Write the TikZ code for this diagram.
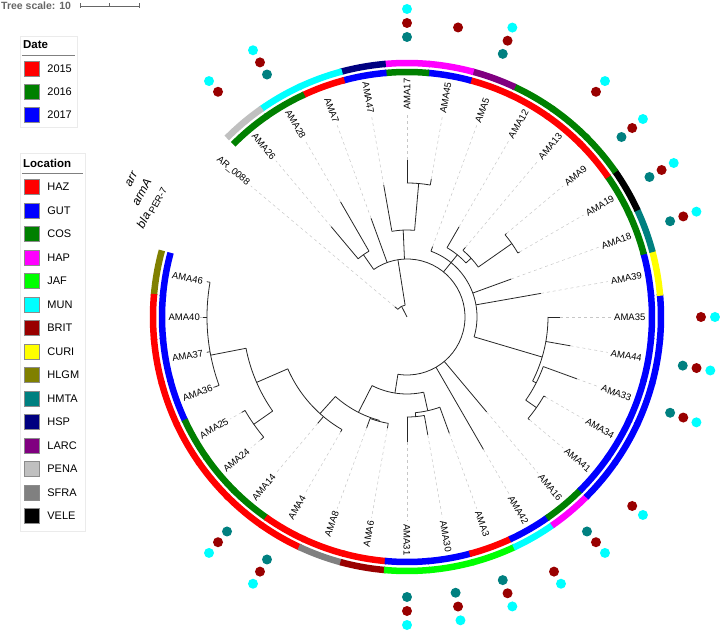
\documentclass[tikz,border=0pt]{standalone}
\usepackage{fontspec}
\setmainfont{Liberation Sans}
\usetikzlibrary{positioning}
\definecolor{cHAZ}{HTML}{FF0000}
\definecolor{cGUT}{HTML}{0000FF}
\definecolor{cCOS}{HTML}{008000}
\definecolor{cHAP}{HTML}{FF00FF}
\definecolor{cJAF}{HTML}{00FF00}
\definecolor{cMUN}{HTML}{00FFFF}
\definecolor{cBRIT}{HTML}{990000}
\definecolor{cCURI}{HTML}{FFFF00}
\definecolor{cHLGM}{HTML}{808000}
\definecolor{cHMTA}{HTML}{008080}
\definecolor{cHSP}{HTML}{000080}
\definecolor{cLARC}{HTML}{800080}
\definecolor{cPENA}{HTML}{C0C0C0}
\definecolor{cSFRA}{HTML}{808080}
\definecolor{cVELE}{HTML}{000000}
\definecolor{yA}{HTML}{FF0000}
\definecolor{yB}{HTML}{008000}
\definecolor{yC}{HTML}{0000FF}
\tikzset{
  branch/.style={line width=0.8pt, black!85},
  leader/.style={line width=0.5pt, black!22, dash pattern=on 3pt off 3pt},
  ringseg/.style={line width=6.5pt},
  leaf/.style={inner sep=0pt, font=\fontsize{9.5}{10}\selectfont},
  gene/.style={circle, inner sep=0pt, minimum size=10pt},
  genelbl/.style={inner sep=0pt, rotate=62, anchor=east, font=\itshape\fontsize{12}{12}\selectfont},
  swatch/.style={draw=black!45, line width=0.4pt, minimum size=15pt, inner sep=0pt},
  legtext/.style={font=\fontsize{11}{12}\selectfont, inner sep=0pt},
  leghead/.style={font=\bfseries\fontsize{11.5}{12}\selectfont, anchor=west, inner sep=0pt},
}
\begin{document}
\begin{tikzpicture}[x=1pt,y=1pt]
\useasboundingbox (-407,-314) rectangle (313,317);

\foreach \a/\ra/\rb in {117/0/12, 99/12/58, 125/58/76, 92.5/58/87, 85/87/134, 51/58/80, 42.5/80/87,
  35/87/128, 343.5/70/141, 333/141/145, 325/145/158, 261/58/77, 243/77/107,
  255/107/108, 228/107/130, 203.5/130/164, 191/164/200, 215/164/187, 282.5/77/96, 275/96/100}
  \draw[branch] (\a:\ra pt) -- (\a:\rb pt);
\foreach \r/\a/\b in {12/99/140, 58/-99/125, 76/120/130, 87/85/100, 134/80/90, 70/-16.5/70,
  80/42.5/60, 87/35/50, 128/30/40, 141/-27/0, 145/-35/-20, 158/-40/-30, 77/243/282.5, 107/228/255,
  108/250/260, 130/203.5/240, 164/191/215, 200/170/200, 187/210/220, 96/275/290, 100/270/280}
  \draw[branch] (\a:\r pt) arc[start angle=\a, end angle=\b, radius=\r pt];

\foreach \n/\a/\p/\t in {AMA31/270/100/125, AMA30/280/100/120, AMA3/290/96/124, AMA42/300/58/153,
  AMA16/310/58/124, AMA41/320/158/160, AMA34/330/158/160, AMA33/340/145/181, AMA44/350/141/166,
  AMA35/360/141/153, AMA39/370/70/136, AMA18/380/70/111, AMA19/390/128/130, AMA9/400/128/130,
  AMA13/410/87/91, AMA12/420/80/104, AMA5/430/70/75, AMA45/440/134/140, AMA17/450/134/157}{
  \draw[branch] (\a:\p pt) -- (\a:\t pt);
  \draw[leader] (\a:\t pt) -- (\a:204pt);
  \node[leaf, rotate=\a, anchor=west] (\n) at (\a:207pt) {\n};
}
\foreach \n/\a/\p/\t in {AMA47/100/87/134, AMA7/110/58/105, AMA28/120/76/133, AMA26/130/76/118,
  AMA46/170/200/203, AMA40/180/200/207, AMA37/190/200/203, AMA36/200/200/206, AMA25/210/187/191,
  AMA24/220/187/191, AMA14/230/130/139, AMA4/240/130/133, AMA8/250/108/118, AMA6/260/108/113}{
  \draw[branch] (\a:\p pt) -- (\a:\t pt);
  \draw[leader] (\a:\t pt) -- (\a:204pt);
  \node[leaf, rotate=\a-180, anchor=east] (\n) at (\a:207pt) {\n};
}
\draw[branch] (140:12pt) -- (140:16pt);
\draw[leader] (140:16pt) -- (140:204pt);
\node[leaf, rotate=-40, anchor=east] (AR0088) at (140:207pt) {AR\_0088};

\foreach \a/\d/\l in {170/yC/cHLGM, 180/yC/cHAZ, 190/yC/cHAZ, 200/yC/cHAZ, 210/yB/cHAZ,
  220/yB/cHAZ, 230/yB/cHAZ, 240/yA/cHAZ, 250/yA/cSFRA, 260/yA/cBRIT, 270/yC/cJAF, 280/yC/cJAF,
  290/yA/cJAF, 300/yC/cMUN, 310/yB/cHAP, 320/yC/cGUT, 330/yC/cGUT, 340/yC/cGUT, 350/yC/cGUT,
  360/yC/cGUT, 370/yC/cCURI, 380/yB/cHMTA, 390/yB/cVELE, 400/yA/cCOS, 410/yA/cCOS, 420/yA/cCOS,
  430/yA/cLARC, 440/yC/cHAP, 450/yB/cHAP, 460/yC/cHSP, 470/yA/cMUN, 480/yB/cMUN, 490/yB/cPENA}{
  \draw[ringseg, \d] ({\a-5.2}:245pt) arc[start angle=\a-5.2, end angle=\a+5.2, radius=245pt];
  \draw[ringseg, \l] ({\a-5.2}:254pt) arc[start angle=\a-5.2, end angle=\a+5.2, radius=254pt];
}

\foreach \a [count=\i] in {90, 70, 40, 30, 20, 350, 340, 310, 290, 280, 270, 240, 230, 120}
  \node[gene, fill=cHMTA] (bla\i) at (\a:280pt) {};
\foreach \a [count=\i] in {90, 80, 70, 50, 40, 30, 20, 0, 350, 340, 320, 310, 300, 290, 280, 270, 240, 230, 130, 120}
  \node[gene, fill=cBRIT] (armA\i) at (\a:294pt) {};
\foreach \a [count=\i] in {90, 70, 50, 40, 30, 20, 0, 350, 340, 320, 310, 300, 290, 280, 270, 240, 230, 130, 120}
  \node[gene, fill=cMUN] (arr\i) at (\a:308pt) {};

\node[genelbl] (arrlbl) at (152:308pt) {arr};
\node[genelbl] (armAlbl) at (152:293pt) {armA};
\node[genelbl] (blalbl) at (152:277pt) {bla\,\upshape\raisebox{-2.5pt}{\fontsize{9.5}{10}\selectfont PER-7}};

\begin{scope}[shift={(-407,317)}, yscale=-1]
\node[font=\bfseries\fontsize{10.5}{11}\selectfont, text=black!60, anchor=west, inner sep=0pt] (scalelbl) at (1,6) {Tree scale: 10};
\draw[black!60, line width=0.6pt] (80,6) -- (139,6) (80,3.5) -- (80,8.5) (139,3.5) -- (139,8.5) (109.5,6) -- (109.5,3.5);

\draw[black!8] (20,36) rectangle (77,127);
\node[leghead] (datehead) at (23,45) {Date};
\draw[black!50, line width=0.6pt] (22,55) -- (75,55);
\foreach \y/\c/\t [count=\i] in {69/yA/2015, 92/yB/2016, 115/yC/2017}{
  \node[swatch, fill=\c] (date\i) at (31.5,\y) {};
  \node[legtext, right=8pt of date\i] (datetxt\i) {\t};
}
\draw[black!8] (20,153) rectangle (85,531);
\node[leghead] (lochead) at (23,163) {Location};
\draw[black!50, line width=0.6pt] (22,173) -- (83,173);
\foreach \t [count=\i] in {HAZ, GUT, COS, HAP, JAF, MUN, BRIT, CURI, HLGM, HMTA, HSP, LARC, PENA, SFRA, VELE}{
  \node[swatch, fill=c\t] (loc\i) at (31.5,{163.5+23.5*\i}) {};
  \node[legtext, right=8pt of loc\i] (loctxt\i) {\t};
}
\end{scope}
\end{tikzpicture}
\end{document}
